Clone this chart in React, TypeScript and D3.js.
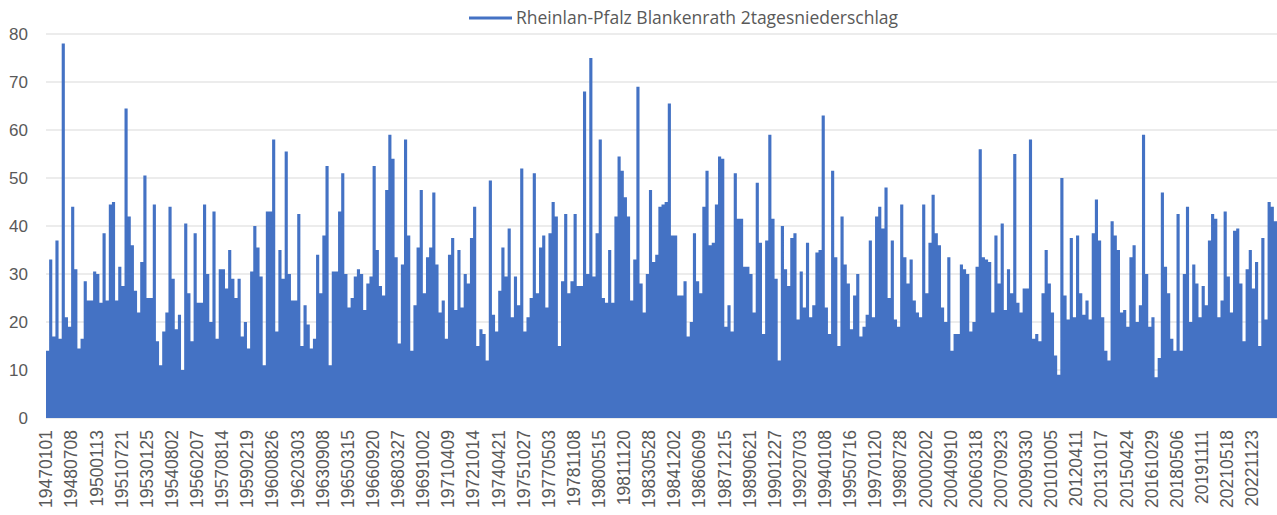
import React from 'react';
import * as d3 from 'd3';

// Category labels shown on the x axis (every 554th day of the daily series)
const tickLabels = [
  '19470101', '19480708', '19500113', '19510721', '19530125', '19540802', '19560207',
  '19570814', '19590219', '19600826', '19620303', '19630908', '19650315', '19660920',
  '19680327', '19691002', '19710409', '19721014', '19740421', '19751027', '19770503',
  '19781108', '19800515', '19811120', '19830528', '19841202', '19860609', '19871215',
  '19890621', '19901227', '19920703', '19940108', '19950716', '19970120', '19980728',
  '20000202', '20040910', '20060318', '20070923', '20090330', '20101005', '20120411',
  '20131017', '20150424', '20161029', '20180506', '20191111', '20210518', '20221123',
];

// Peak 2-day precipitation (mm) per block of ~69 days
const seg1 = [
  14, 33, 17, 37, 16.5, 78, 21, 19, 44, 31,
  14.5, 16.5, 28.5, 24.5, 24.5, 30.5, 30, 24, 38.5, 24.5,
  44.5, 45, 24.5, 31.5, 27.5, 64.5, 42, 36, 26.5, 22,
  32.5, 50.5, 25, 25, 44.5, 16, 11, 18, 22, 44,
  29, 18.5, 21.5, 10, 40.5, 26, 16, 38.5, 24, 24,
  44.5, 30, 20, 43, 16.5, 31, 31, 27, 35, 29,
  25, 29, 17, 20, 14.5, 30.5, 40, 35.5, 29.5, 11,
  43, 43, 58, 18, 35, 29, 55.5, 30, 24.5, 24.5,
  42.5, 15, 23.5, 19.5, 14.5, 16.5, 34, 26, 38, 52.5,
  11, 30.5, 30.5, 43, 51, 30, 23, 25,
];
const seg2 = [
  29.5, 31, 30, 22.5, 28, 29.5, 52.5, 35, 27.5, 25.5,
  47.5, 59, 54, 33.5, 15.5, 32, 58, 38, 14, 23.5,
  35.5, 47.5, 26, 33.5, 35.5, 47, 32, 22, 24.5, 16.5,
  34, 37.5, 22.5, 35, 23, 30, 28, 37.5, 44, 15,
  18.5, 17.5, 12, 49.5, 21.5, 18, 26.5, 35.5, 29.5, 39.5,
  21, 29.5, 23.5, 52, 18, 21, 25, 51, 26, 35.5,
  38, 23, 38.5, 45, 42, 15, 28.5, 42.5, 26, 28.5,
  42.5, 27.5, 27.5, 68, 30, 75, 29.5, 38.5, 58, 25,
  24, 35, 24, 42, 54.5, 51.5, 46, 42, 24.5, 33,
  69, 28, 22, 30, 47.5, 32.5, 34, 44, 44.5,
];
const seg3 = [
  45, 65.5, 38, 38, 25.5, 25.5, 28.5, 17, 20, 38.5,
  28.5, 26, 44, 51.5, 36, 36.5, 44.5, 54.5, 54, 19,
  23.5, 18, 51, 41.5, 41.5, 31.5, 31.5, 30, 22, 49,
  36.5, 17.5, 37, 59, 41.5, 29, 12, 40, 31, 27.5,
  37.5, 38.5, 20.5, 30.5, 23, 36.5, 21, 23.5, 34.5, 35,
  63, 23, 17.5, 51.5, 33.5, 15, 42, 32, 28, 18.5,
  25.5, 30, 17, 19, 21.5, 37, 21, 42, 44, 39.5,
  48, 25, 37, 20.5, 19, 44.5, 33.5, 28, 33, 24.5,
  22, 21, 44.5, 26, 36.5, 46.5, 38.5, 36, 23, 20,
  33.5, 14, 17.5, 17.5, 32, 31, 30, 18,
];
const seg4 = [
  20, 31.5, 56, 33.5, 33, 32.5, 22, 38, 28, 40.5,
  22.5, 31, 26, 55, 24, 22, 27, 27, 58, 16.5,
  17.5, 16, 26, 35, 28, 22, 13, 9, 50, 25.5,
  20.5, 37.5, 21, 38, 26, 21.5, 24.5, 20.5, 38.5, 45.5,
  37, 21, 14, 12, 41, 38, 35, 22, 22.5, 19,
  33.5, 36, 20, 23.5, 59, 30, 19, 21, 8.5, 12.5,
  47, 31.5, 26, 16.5, 14, 42.5, 14, 30, 44, 20,
  32, 28, 21, 27.5, 23.5, 37, 42.5, 41.5, 21, 24.5,
  43, 29.5, 22, 39, 39.5, 28, 16, 31, 35, 27,
  32.5, 15, 37.5, 20.5, 45, 44, 41,
];

const series = [...seg1, ...seg2, ...seg3, ...seg4];
const samplesPerLabel = 8;
const seriesName = 'Rheinlan-Pfalz Blankenrath 2tagesniederschlag';

const W = 1277;
const H = 515;
const margin = { top: 34, right: 0, bottom: 97, left: 46 };
const BLUE = '#4472C4';
const TEXT = '#595959';
const GRID = '#D9D9D9';

export default function App() {
  const x = d3.scaleLinear()
    .domain([0, series.length])
    .range([margin.left, W - margin.right]);
  const y = d3.scaleLinear()
    .domain([0, 80])
    .range([H - margin.bottom, margin.top]);

  const area = d3.area<number>()
    .x((_, i) => x(i))
    .y0(y(0))
    .y1(d => y(d))
    .curve(d3.curveStepAfter);

  const path = area([...series, series[series.length - 1]]) || '';

  return (
    <svg
      width={W}
      height={H}
      style={{ position: 'absolute', left: 0, top: 0, background: '#fff' }}
      fontFamily="'Liberation Sans', Arial, sans-serif"
    >
      {/* gridlines */}
      {y.ticks(8).map(t => (
        <line key={t} x1={margin.left} x2={W - margin.right} y1={y(t)} y2={y(t)}
          stroke={GRID} strokeWidth={1} />
      ))}

      <path d={path} fill={BLUE} />

      {/* y tick labels */}
      {y.ticks(8).map(t => (
        <text key={t} x={28} y={y(t)} dy="0.35em" textAnchor="end" fontSize={17} fill={TEXT}>
          {t}
        </text>
      ))}

      {/* x tick labels */}
      {tickLabels.map((lab, k) => {
        const tx = x(k * samplesPerLabel);
        const ty = y(0) + 12;
        return (
          <text key={lab} transform={`translate(${tx},${ty}) rotate(-90)`}
            textAnchor="end" dy="0.36em" fontSize={17.5} fill={TEXT}>
            {lab}
          </text>
        );
      })}

      {/* legend */}
      <line x1={469} x2={512} y1={18} y2={18} stroke={BLUE} strokeWidth={3} />
      <text x={516} y={18} dy="0.35em" fontSize={17.5} fill={TEXT}
        fontFamily="'Open Sans', sans-serif">{seriesName}</text>
    </svg>
  );
}
